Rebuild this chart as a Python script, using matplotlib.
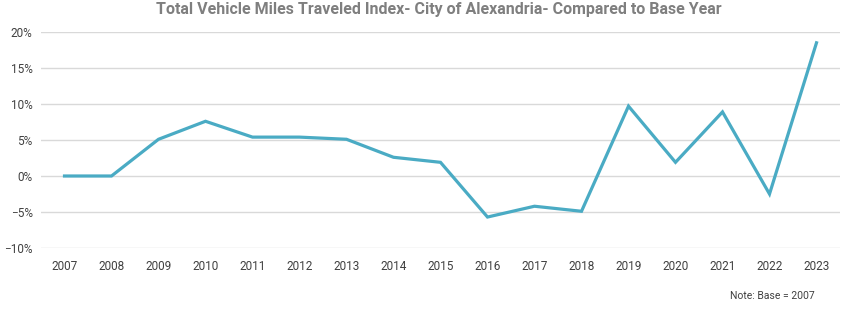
import matplotlib.pyplot as plt
from matplotlib.ticker import PercentFormatter

years = [str(y) for y in range(2007, 2024)]
vmt_change = [0.0, 0.0, 5.1, 7.6, 5.4, 5.4, 5.1, 2.6, 1.9, -5.7, -4.2, -4.9, 9.7, 1.9, 8.9, -2.5, 18.5]

plt.rcParams['font.family'] = ['Roboto', 'DejaVu Sans']

fig = plt.figure(figsize=(8.44, 3.29), dpi=100)
ax = fig.add_axes([41 / 844, 1 - 248 / 329, 799 / 844, 216 / 329])

x = range(len(years))
ax.plot(x, vmt_change, color='#4aabc4', linewidth=2.3, solid_joinstyle='miter')

ax.set_xlim(-0.5, len(years) - 0.5)
ax.set_ylim(-10, 20)
ax.set_yticks(range(-10, 21, 5))
ax.yaxis.set_major_formatter(PercentFormatter(decimals=0))
ax.set_xticks(list(x))
ax.set_xticklabels(years)

ax.grid(axis='y', color='#d9d9d9', linewidth=1)
ax.set_axisbelow(True)
for s in ax.spines.values():
    s.set_visible(False)
ax.tick_params(length=0, labelsize=8.5, labelcolor='#404040')
ax.tick_params(axis='x', pad=9)
ax.tick_params(axis='y', pad=6)

fig.text(0.52, 0.97, 'Total Vehicle Miles Traveled Index- City of Alexandria- Compared to Base Year',
         ha='center', va='center', fontsize=11.5, fontweight='bold', color='#7f7f7f')
fig.text(0.965, 0.1, 'Note: Base = 2007', ha='right', va='center', fontsize=7.5, color='#404040')

fig.savefig('out.png', dpi=100)
